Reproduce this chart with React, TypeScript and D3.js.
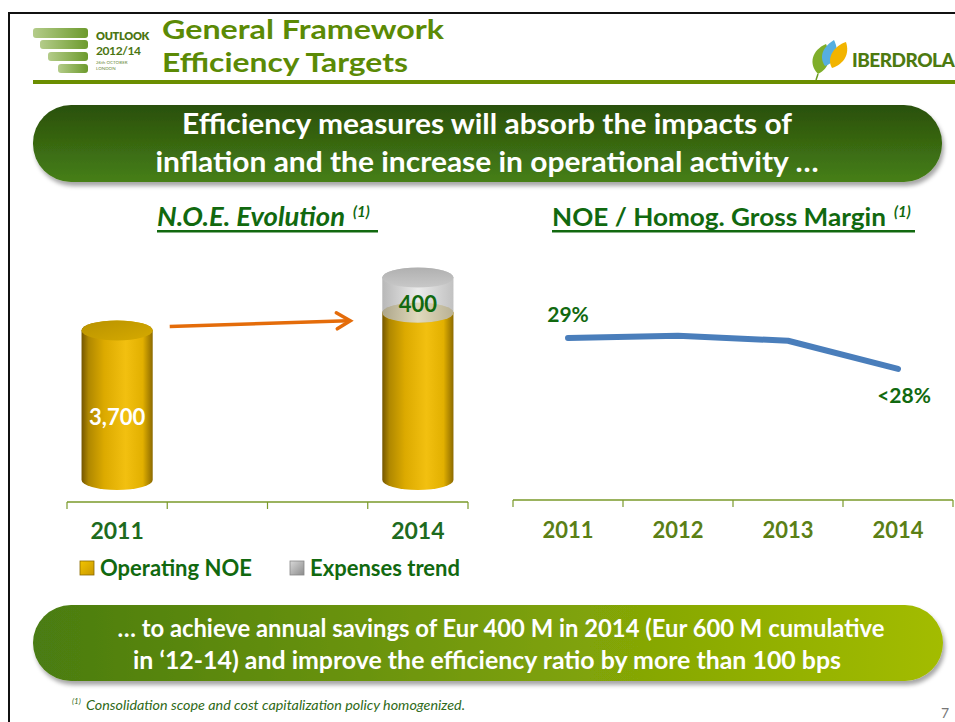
import React, { useEffect, useRef } from "react";
import * as d3 from "d3";

// N.O.E. evolution (cylinders)
const noeYears = ["2011", "2012", "2013", "2014"];
const noeTickLabels = ["2011", "", "", "2014"];
const operatingNoe = [
  { year: "2011", value: 3700, label: "3,700" },
  { year: "2014", value: 3900, label: "" },
];
const expensesTrend = [{ year: "2014", value: 400, label: "400" }];

// NOE / Homog. gross margin (line)
const marginYears = ["2011", "2012", "2013", "2014"];
const marginValues = [29.0, 29.08, 28.9, 27.9];
const marginLabels = ["29%", "", "", "<28%"];

const legendItems = ["Operating NOE", "Expenses trend"];

const FONT = "Lato, 'Open Sans', sans-serif";
const DARK_GREEN = "#11690f";

const App = () => {
  const svgRef = useRef<SVGSVGElement>(null);

  useEffect(() => {
    const svg = d3.select(svgRef.current);

    // ---------- left chart ----------
    const left = svg.select(".noe-chart");
    left.selectAll("*").remove();

    const x = d3
      .scaleBand()
      .domain(noeYears)
      .range([67, 468])
      .paddingInner(0.29)
      .paddingOuter(0.145);

    const y = d3.scaleLinear().domain([2000, 4500]).range([480, 260]);
    const ry = 10;

    const cyl = (x0: number, x1: number, yTop: number, yBot: number) => {
      const rx = (x1 - x0) / 2;
      return `M${x0},${yTop}L${x0},${yBot}A${rx},${ry} 0 0 0 ${x1},${yBot}L${x1},${yTop}A${rx},${ry} 0 0 0 ${x0},${yTop}Z`;
    };

    // axis line + ticks at band boundaries
    const [r0, r1] = x.range();
    const axisY = 502;
    left
      .append("line")
      .attr("x1", r0)
      .attr("x2", r1)
      .attr("y1", axisY)
      .attr("y2", axisY)
      .attr("stroke", "#7a9a2a")
      .attr("stroke-width", 1.5);
    left
      .selectAll(".tick")
      .data(d3.range(noeYears.length + 1))
      .join("line")
      .attr("x1", (i) => r0 + i * x.step())
      .attr("x2", (i) => r0 + i * x.step())
      .attr("y1", axisY)
      .attr("y2", axisY + 7)
      .attr("stroke", "#7a9a2a")
      .attr("stroke-width", 1.2);

    left
      .selectAll(".xlab")
      .data(noeYears)
      .join("text")
      .attr("x", (d) => x(d)! + x.bandwidth() / 2)
      .attr("y", 539)
      .attr("text-anchor", "middle")
      .attr("font-size", 23)
      .attr("font-weight", 700)
      .attr("fill", "#1e6b1e")
      .text((d, i) => noeTickLabels[i]);

    const base = y(2000);

    // operating NOE cylinders
    operatingNoe.forEach((d) => {
      const x0 = x(d.year)!;
      const x1 = x0 + x.bandwidth();
      const top = y(d.value);
      left
        .append("path")
        .attr("d", cyl(x0, x1, top, base))
        .attr("fill", "url(#goldBody)");
      left
        .append("ellipse")
        .attr("cx", (x0 + x1) / 2)
        .attr("cy", top)
        .attr("rx", (x1 - x0) / 2)
        .attr("ry", ry)
        .attr("fill", "url(#goldTop)");
      if (d.label) {
        left
          .append("text")
          .attr("x", (x0 + x1) / 2)
          .attr("y", (top + base) / 2 + 20)
          .attr("text-anchor", "middle")
          .attr("font-size", 22)
          .attr("font-weight", 700)
          .attr("fill", "#ffffff")
          .text(d.label);
      }
    });

    // expenses trend stacked on top (semi transparent)
    expensesTrend.forEach((d) => {
      const below = operatingNoe.find((o) => o.year === d.year)!;
      const x0 = x(d.year)!;
      const x1 = x0 + x.bandwidth();
      const bot = y(below.value);
      const top = y(below.value + d.value);
      left
        .append("path")
        .attr("d", cyl(x0, x1, top, bot))
        .attr("fill", "url(#grayBody)")
        .attr("opacity", 0.82);
      left
        .append("ellipse")
        .attr("cx", (x0 + x1) / 2)
        .attr("cy", top)
        .attr("rx", (x1 - x0) / 2)
        .attr("ry", ry)
        .attr("fill", "url(#grayTop)");
      left
        .append("text")
        .attr("x", (x0 + x1) / 2)
        .attr("y", (top + bot) / 2 + 17)
        .attr("text-anchor", "middle")
        .attr("font-size", 22)
        .attr("font-weight", 700)
        .attr("fill", DARK_GREEN)
        .text(d.label);
    });

    // orange arrow between the years
    const ax0 = x("2011")! + x.bandwidth() + 17;
    const ax1 = x("2014")! - 32;
    const ay0 = y(operatingNoe[0].value) - 4;
    const ay1 = y(operatingNoe[1].value) + 8;
    left
      .append("line")
      .attr("x1", ax0)
      .attr("y1", ay0)
      .attr("x2", ax1 - 2)
      .attr("y2", ay1)
      .attr("stroke", "#e46c0a")
      .attr("stroke-width", 3.5);
    left
      .append("polyline")
      .attr("points", `${ax1 - 14},${ay1 - 8} ${ax1},${ay1} ${ax1 - 13},${ay1 + 8}`)
      .attr("fill", "none")
      .attr("stroke", "#e46c0a")
      .attr("stroke-width", 3.5)
      .attr("stroke-linecap", "round");

    // legend
    const legend = left.append("g").attr("transform", "translate(80,561)");
    legendItems.forEach((name, i) => {
      const g = legend.append("g").attr("transform", `translate(${i * 210},0)`);
      g.append("rect")
        .attr("width", 14)
        .attr("height", 14)
        .attr("fill", i === 0 ? "url(#goldSq)" : "url(#graySq)")
        .attr("stroke", i === 0 ? "#8a6a00" : "#888")
        .attr("stroke-width", 0.8);
      g.append("text")
        .attr("x", 20)
        .attr("y", 15)
        .attr("font-size", 22)
        .attr("font-weight", 700)
        .attr("fill", DARK_GREEN)
        .text(name);
    });

    // ---------- right chart ----------
    const right = svg.select(".margin-chart");
    right.selectAll("*").remove();

    const xr = d3.scaleBand().domain(marginYears).range([513, 953]);
    const yr = d3.scaleLinear().domain([23.25, 31]).range([500, 281.6]);

    const [q0, q1] = xr.range();
    right
      .append("line")
      .attr("x1", q0)
      .attr("x2", q1)
      .attr("y1", 500)
      .attr("y2", 500)
      .attr("stroke", "#7a9a2a")
      .attr("stroke-width", 1.5);
    right
      .selectAll(".tick")
      .data(d3.range(marginYears.length + 1))
      .join("line")
      .attr("x1", (i) => q0 + i * xr.step())
      .attr("x2", (i) => q0 + i * xr.step())
      .attr("y1", 500)
      .attr("y2", 507)
      .attr("stroke", "#7a9a2a")
      .attr("stroke-width", 1.2);
    right
      .selectAll(".xlab")
      .data(marginYears)
      .join("text")
      .attr("x", (d) => xr(d)! + xr.bandwidth() / 2)
      .attr("y", 538)
      .attr("text-anchor", "middle")
      .attr("font-size", 22)
      .attr("font-weight", 700)
      .attr("fill", "#5b7f16")
      .text((d) => d);

    const pts = marginYears.map((d, i) => ({ year: d, v: marginValues[i], label: marginLabels[i] }));
    const line = d3
      .line<{ year: string; v: number }>()
      .x((d) => xr(d.year)! + xr.bandwidth() / 2)
      .y((d) => yr(d.v));
    right
      .append("path")
      .attr("d", line(pts))
      .attr("fill", "none")
      .attr("stroke", "#4a7ebb")
      .attr("stroke-width", 6)
      .attr("stroke-linecap", "round")
      .attr("stroke-linejoin", "round");

    right
      .selectAll(".plab")
      .data(pts.filter((p) => p.label))
      .join("text")
      .attr("x", (d, i) => xr(d.year)! + xr.bandwidth() / 2 + (i === 0 ? 0 : 6))
      .attr("y", (d, i) => (i === 0 ? yr(d.v) - 16 : yr(d.v) + 34))
      .attr("text-anchor", "middle")
      .attr("font-size", 21)
      .attr("font-weight", 700)
      .attr("fill", DARK_GREEN)
      .text((d) => d.label);
  }, []);

  return (
    <div style={{ position: "absolute", left: 0, top: 0 }}>
      <svg ref={svgRef} width={955} height={722} style={{ display: "block", fontFamily: FONT }}>
        <defs>
          <linearGradient id="goldBody" x1="0" x2="1" y1="0" y2="0">
            <stop offset="0%" stopColor="#745600" />
            <stop offset="10%" stopColor="#b08800" />
            <stop offset="32%" stopColor="#dcaa00" />
            <stop offset="62%" stopColor="#f2c010" />
            <stop offset="86%" stopColor="#e2b000" />
            <stop offset="100%" stopColor="#8c6a00" />
          </linearGradient>
          <linearGradient id="goldTop" x1="0" x2="1" y1="0" y2="1">
            <stop offset="0%" stopColor="#b89200" />
            <stop offset="100%" stopColor="#d6aa00" />
          </linearGradient>
          <linearGradient id="grayBody" x1="0" x2="1" y1="0" y2="0">
            <stop offset="0%" stopColor="#a8a8a8" />
            <stop offset="50%" stopColor="#e6e6e6" />
            <stop offset="100%" stopColor="#b4b4b4" />
          </linearGradient>
          <linearGradient id="grayTop" x1="0" x2="0" y1="0" y2="1">
            <stop offset="0%" stopColor="#b0b0b0" />
            <stop offset="100%" stopColor="#c8c8c8" />
          </linearGradient>
          <linearGradient id="goldSq" x1="0" x2="1" y1="0" y2="1">
            <stop offset="0%" stopColor="#f2c400" />
            <stop offset="100%" stopColor="#c89800" />
          </linearGradient>
          <linearGradient id="graySq" x1="0" x2="1" y1="0" y2="1">
            <stop offset="0%" stopColor="#d8d8d8" />
            <stop offset="100%" stopColor="#8c8c8c" />
          </linearGradient>
          <linearGradient id="topBanner" x1="0" x2="0" y1="0" y2="1">
            <stop offset="0%" stopColor="#2a500c" />
            <stop offset="100%" stopColor="#467f16" />
          </linearGradient>
          <linearGradient id="botBanner" x1="0" x2="1" y1="0" y2="0">
            <stop offset="0%" stopColor="#4a7c12" />
            <stop offset="100%" stopColor="#a3bc00" />
          </linearGradient>
          <linearGradient id="logoBar" x1="0" x2="1" y1="0" y2="0">
            <stop offset="0%" stopColor="#b4cc8a" />
            <stop offset="100%" stopColor="#6c9a2c" />
          </linearGradient>
          <filter id="shadow" x="-5%" y="-20%" width="110%" height="150%">
            <feDropShadow dx="2" dy="4" stdDeviation="2" floodColor="#000" floodOpacity="0.35" />
          </filter>
        </defs>

        <rect width={955} height={722} fill="#ffffff" />
        {/* slide frame */}
        <path d="M9,722 V13 H955" fill="none" stroke="#111" strokeWidth={2} />

        {/* outlook logo */}
        {[
          [33, 28, 10],
          [40, 40, 9],
          [48, 52, 9],
          [58, 64, 9],
        ].map(([bx, by, bh], i) => (
          <rect key={i} x={bx} y={by} width={88 - bx} height={bh} rx={3} fill="url(#logoBar)" />
        ))}
        <text x={96} y={40} fontSize={11} fontWeight={800} fill="#4b7512" letterSpacing={-0.3}>
          OUTLOOK
        </text>
        <text x={96} y={55} fontSize={12} fontWeight={700} fill="#4b7512" letterSpacing={-0.4}>
          2012/14
        </text>
        <text x={96} y={63.5} fontSize={4.5} fill="#6b8a3a">
          26th OCTOBER
        </text>
        <text x={96} y={69.5} fontSize={4.5} fill="#6b8a3a">
          LONDON
        </text>

        {/* title */}
        <text x={162} y={39} fontSize={27} fontWeight={700} fill="#5b8a05" textLength={282} lengthAdjust="spacingAndGlyphs">
          General Framework
        </text>
        <text x={162} y={72} fontSize={27} fontWeight={700} fill="#5b8a05" textLength={246} lengthAdjust="spacingAndGlyphs">
          Efficiency Targets
        </text>

        {/* iberdrola logo */}
        <g>
          <path d="M818,74 C808,64 812,50 826,44 C832,56 830,68 818,74 Z" fill="#7fae2a" />
          <path d="M825,66 C818,56 824,46 834,40 C840,52 836,62 825,66 Z" fill="#56aee0" />
          <path d="M832,68 C826,58 834,46 846,42 C850,54 844,64 832,68 Z" fill="#f2b400" />
          <path d="M818,74 L816,80" stroke="#6a9a20" strokeWidth={1.5} />
          <text x={852} y={67} fontSize={19} fontWeight={900} fill="#4d7a10" letterSpacing={-0.5}>
            IBERDROLA
          </text>
        </g>

        <rect x={33} y={80} width={922} height={4} fill="#6b8e00" />

        {/* top banner */}
        <rect x={33} y={105} width={909} height={77} rx={38} fill="url(#topBanner)" filter="url(#shadow)" />
        <text x={487} y={134} textAnchor="middle" fontSize={29} fontWeight={700} fill="#fff" textLength={610} lengthAdjust="spacingAndGlyphs">
          Efficiency measures will absorb the impacts of
        </text>
        <text x={487} y={172} textAnchor="middle" fontSize={29} fontWeight={700} fill="#fff" textLength={663} lengthAdjust="spacingAndGlyphs">
          inflation and the increase in operational activity …
        </text>

        {/* chart titles */}
        <text x={157} y={226} fontSize={26} fontWeight={700} fontStyle="italic" fill={DARK_GREEN} textLength={188} lengthAdjust="spacingAndGlyphs">
          N.O.E. Evolution
        </text>
        <text x={353} y={217} fontSize={15} fontWeight={700} fontStyle="italic" fill={DARK_GREEN}>
          (1)
        </text>
        <rect x={157} y={230} width={221} height={2.5} fill={DARK_GREEN} />
        <text x={552} y={226} fontSize={25} fontWeight={700} fill={DARK_GREEN} textLength={334} lengthAdjust="spacingAndGlyphs">
          NOE / Homog. Gross Margin
        </text>
        <text x={894} y={217} fontSize={15} fontWeight={700} fontStyle="italic" fill={DARK_GREEN}>
          (1)
        </text>
        <rect x={552} y={230} width={363} height={2.5} fill={DARK_GREEN} />

        <g className="noe-chart" />
        <g className="margin-chart" />

        {/* bottom banner */}
        <rect x={33} y={605} width={910} height={76} rx={38} fill="url(#botBanner)" filter="url(#shadow)" />
        <text x={501} y={637} textAnchor="middle" fontSize={24} fontWeight={700} fill="#fff" textLength={767} lengthAdjust="spacingAndGlyphs">
          … to achieve annual savings of Eur 400 M in 2014 (Eur 600 M cumulative
        </text>
        <text x={487} y={669} textAnchor="middle" fontSize={24} fontWeight={700} fill="#fff" textLength={708} lengthAdjust="spacingAndGlyphs">
          in ‘12-14) and improve the efficiency ratio by more than 100 bps
        </text>

        {/* footnote */}
        <text x={72} y={704} fontSize={8} fontStyle="italic" fill="#2f6a18">
          (1)
        </text>
        <text x={86} y={710} fontSize={13} fontStyle="italic" fill="#2f6a18" textLength={379} lengthAdjust="spacingAndGlyphs">
          Consolidation scope and cost capitalization policy homogenized.
        </text>
        <text x={945} y={718} fontSize={14} fill="#777" textAnchor="middle">
          7
        </text>
      </svg>
    </div>
  );
};

export default App;
